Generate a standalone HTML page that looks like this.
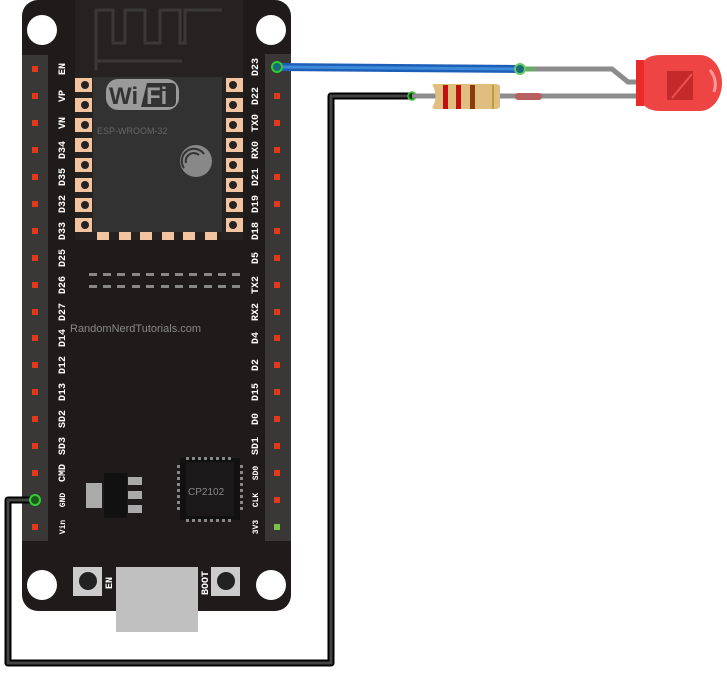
<!DOCTYPE html>
<html><head><meta charset="utf-8"><style>
html,body{margin:0;padding:0;background:#fff;}
svg{display:block;}
.l{font-family:"Liberation Mono",monospace;font-size:10px;fill:#fff;font-weight:bold;}
</style></head><body>
<svg width="727" height="673" viewBox="0 0 727 673" xmlns="http://www.w3.org/2000/svg">
<!-- board -->
<rect x="22" y="0" width="269" height="611" rx="16" fill="#1f1b1b"/>
<circle cx="42" cy="30" r="15" fill="#fff"/>
<circle cx="271" cy="30" r="15" fill="#fff"/>
<circle cx="42" cy="585" r="15" fill="#fff"/>
<circle cx="271" cy="585" r="15" fill="#fff"/>
<!-- headers -->
<rect x="22" y="55" width="26" height="486" fill="#3a3737"/>
<rect x="265" y="54" width="26" height="487" fill="#3a3737"/>
<g fill="#e03a1a">
<rect x="32" y="66" width="6" height="6"/><rect x="32" y="93" width="6" height="6"/><rect x="32" y="120" width="6" height="6"/><rect x="32" y="147" width="6" height="6"/><rect x="32" y="174" width="6" height="6"/><rect x="32" y="201" width="6" height="6"/><rect x="32" y="228" width="6" height="6"/><rect x="32" y="255" width="6" height="6"/><rect x="32" y="282" width="6" height="6"/><rect x="32" y="309" width="6" height="6"/><rect x="32" y="335" width="6" height="6"/><rect x="32" y="362" width="6" height="6"/><rect x="32" y="389" width="6" height="6"/><rect x="32" y="416" width="6" height="6"/><rect x="32" y="443" width="6" height="6"/><rect x="32" y="470" width="6" height="6"/><rect x="32" y="524" width="6" height="6"/>
<rect x="274" y="93" width="6" height="6"/><rect x="274" y="120" width="6" height="6"/><rect x="274" y="147" width="6" height="6"/><rect x="274" y="174" width="6" height="6"/><rect x="274" y="201" width="6" height="6"/><rect x="274" y="228" width="6" height="6"/><rect x="274" y="255" width="6" height="6"/><rect x="274" y="282" width="6" height="6"/><rect x="274" y="309" width="6" height="6"/><rect x="274" y="335" width="6" height="6"/><rect x="274" y="362" width="6" height="6"/><rect x="274" y="389" width="6" height="6"/><rect x="274" y="416" width="6" height="6"/><rect x="274" y="443" width="6" height="6"/><rect x="274" y="470" width="6" height="6"/><rect x="274" y="497" width="6" height="6"/>
</g>
<rect x="274" y="524" width="6" height="6" fill="#7ac04a"/>
<!-- labels -->
<g class="l" text-anchor="middle">
<text transform="translate(65,69) rotate(-90)">EN</text>
<text transform="translate(65,96) rotate(-90)">VP</text>
<text transform="translate(65,123) rotate(-90)">VN</text>
<text transform="translate(65,150) rotate(-90)">D34</text>
<text transform="translate(65,177) rotate(-90)">D35</text>
<text transform="translate(65,204) rotate(-90)">D32</text>
<text transform="translate(65,231) rotate(-90)">D33</text>
<text transform="translate(65,258) rotate(-90)">D25</text>
<text transform="translate(65,285) rotate(-90)">D26</text>
<text transform="translate(65,312) rotate(-90)">D27</text>
<text transform="translate(65,338) rotate(-90)">D14</text>
<text transform="translate(65,365) rotate(-90)">D12</text>
<text transform="translate(65,392) rotate(-90)">D13</text>
<text transform="translate(65,419) rotate(-90)">SD2</text>
<text transform="translate(65,446) rotate(-90)">SD3</text>
<text transform="translate(65,473) rotate(-90)">CMD</text>
<text transform="translate(65,500) rotate(-90)" style="font-size:8px">GND</text>
<text transform="translate(65,527) rotate(-90)" style="font-size:8px">Vin</text>
<text transform="translate(258,67) rotate(-90)">D23</text>
<text transform="translate(258,96) rotate(-90)">D22</text>
<text transform="translate(258,123) rotate(-90)">TX0</text>
<text transform="translate(258,150) rotate(-90)">RX0</text>
<text transform="translate(258,177) rotate(-90)">D21</text>
<text transform="translate(258,204) rotate(-90)">D19</text>
<text transform="translate(258,231) rotate(-90)">D18</text>
<text transform="translate(258,258) rotate(-90)">D5</text>
<text transform="translate(258,285) rotate(-90)">TX2</text>
<text transform="translate(258,312) rotate(-90)">RX2</text>
<text transform="translate(258,338) rotate(-90)">D4</text>
<text transform="translate(258,365) rotate(-90)">D2</text>
<text transform="translate(258,392) rotate(-90)">D15</text>
<text transform="translate(258,419) rotate(-90)">D0</text>
<text transform="translate(258,446) rotate(-90)">SD1</text>
<text transform="translate(258,473) rotate(-90)" style="font-size:8px">SD0</text>
<text transform="translate(258,500) rotate(-90)" style="font-size:8px">CLK</text>
<text transform="translate(258,527) rotate(-90)" style="font-size:8px">3V3</text>
</g>
<!-- module -->
<rect x="75" y="0" width="168" height="240" fill="#262222"/>
<rect x="93" y="77" width="129" height="155" fill="#333232"/>
<path d="M96 70 V10 H113 V43 H125 V10 H145 V43 H160 V10 H180 V43 H185 V10 H222" fill="none" stroke="#3a3838" stroke-width="3"/>
<line x1="96" y1="61" x2="182" y2="61" stroke="#3a3838" stroke-width="3"/>
<g fill="#f2c4a0">
<rect x="75" y="78" width="17" height="14"/><rect x="75" y="98" width="17" height="14"/><rect x="75" y="118" width="17" height="14"/><rect x="75" y="138" width="17" height="14"/><rect x="75" y="158" width="17" height="14"/><rect x="75" y="178" width="17" height="14"/><rect x="75" y="198" width="17" height="14"/><rect x="75" y="218" width="17" height="14"/>
<rect x="226" y="78" width="17" height="14"/><rect x="226" y="98" width="17" height="14"/><rect x="226" y="118" width="17" height="14"/><rect x="226" y="138" width="17" height="14"/><rect x="226" y="158" width="17" height="14"/><rect x="226" y="178" width="17" height="14"/><rect x="226" y="198" width="17" height="14"/><rect x="226" y="218" width="17" height="14"/>
<rect x="97" y="232" width="12" height="8"/><rect x="119" y="232" width="12" height="8"/><rect x="140" y="232" width="12" height="8"/><rect x="162" y="232" width="12" height="8"/><rect x="183" y="232" width="12" height="8"/><rect x="205" y="232" width="12" height="8"/>
</g>
<g fill="#262222"><circle cx="85" cy="85" r="4"/><circle cx="85" cy="105" r="4"/><circle cx="85" cy="125" r="4"/><circle cx="85" cy="145" r="4"/><circle cx="85" cy="165" r="4"/><circle cx="85" cy="185" r="4"/><circle cx="85" cy="205" r="4"/><circle cx="85" cy="225" r="4"/>
<circle cx="233" cy="85" r="4"/><circle cx="233" cy="105" r="4"/><circle cx="233" cy="125" r="4"/><circle cx="233" cy="145" r="4"/><circle cx="233" cy="165" r="4"/><circle cx="233" cy="185" r="4"/><circle cx="233" cy="205" r="4"/><circle cx="233" cy="225" r="4"/></g>
<rect x="106" y="79" width="73" height="31" rx="12" fill="#9a9a9a"/>
<path d="M147 83 H172 Q176 83 176 88 V101 Q176 107 170 107 H141 Z" fill="#333"/>
<text x="109" y="104" font-family="Liberation Sans,sans-serif" font-weight="bold" font-size="24" fill="#333">Wi</text>
<text x="146" y="104" font-family="Liberation Sans,sans-serif" font-weight="bold" font-size="24" fill="#9a9a9a">Fi</text>
<text x="97" y="134" font-family="Liberation Sans,sans-serif" font-size="9" fill="#666">ESP-WROOM-32</text>
<circle cx="196" cy="161" r="16" fill="#888"/>
<path d="M184 168 a12 12 0 0 1 20 -14 M186 163 a8 8 0 0 1 13 -8" stroke="#333" stroke-width="2" fill="none"/>
<!-- dashes -->
<g fill="#888">
<rect x="89" y="273" width="8" height="3"/><rect x="103" y="273" width="8" height="3"/><rect x="117" y="273" width="8" height="3"/><rect x="132" y="273" width="8" height="3"/><rect x="146" y="273" width="8" height="3"/><rect x="161" y="273" width="8" height="3"/><rect x="175" y="273" width="8" height="3"/><rect x="189" y="273" width="8" height="3"/><rect x="204" y="273" width="8" height="3"/><rect x="218" y="273" width="8" height="3"/><rect x="232" y="273" width="8" height="3"/>
<rect x="89" y="285" width="8" height="3"/><rect x="103" y="285" width="8" height="3"/><rect x="117" y="285" width="8" height="3"/><rect x="132" y="285" width="8" height="3"/><rect x="146" y="285" width="8" height="3"/><rect x="161" y="285" width="8" height="3"/><rect x="175" y="285" width="8" height="3"/><rect x="189" y="285" width="8" height="3"/><rect x="204" y="285" width="8" height="3"/><rect x="218" y="285" width="8" height="3"/><rect x="232" y="285" width="8" height="3"/>
</g>
<text x="70" y="332" font-family="Liberation Sans,sans-serif" font-size="11" fill="#888">RandomNerdTutorials.com</text>
<!-- regulator -->
<rect x="86" y="483" width="16" height="25" fill="#aaa"/>
<rect x="104" y="473" width="23" height="45" fill="#111"/>
<rect x="128" y="477" width="14" height="8" fill="#aaa"/><rect x="128" y="491" width="14" height="8" fill="#aaa"/><rect x="128" y="505" width="14" height="8" fill="#aaa"/>
<!-- CP2102 -->
<rect x="180" y="458" width="60" height="62" fill="#111"/>
<rect x="186" y="462" width="48" height="54" fill="#1a1818"/>
<g fill="#888">
<rect x="186" y="457" width="3" height="3"/><rect x="192" y="457" width="3" height="3"/><rect x="198" y="457" width="3" height="3"/><rect x="204" y="457" width="3" height="3"/><rect x="210" y="457" width="3" height="3"/><rect x="216" y="457" width="3" height="3"/><rect x="222" y="457" width="3" height="3"/><rect x="228" y="457" width="3" height="3"/>
<rect x="186" y="519" width="3" height="3"/><rect x="192" y="519" width="3" height="3"/><rect x="198" y="519" width="3" height="3"/><rect x="204" y="519" width="3" height="3"/><rect x="210" y="519" width="3" height="3"/><rect x="216" y="519" width="3" height="3"/><rect x="222" y="519" width="3" height="3"/><rect x="228" y="519" width="3" height="3"/>
<rect x="177" y="465" width="3" height="3"/><rect x="177" y="471" width="3" height="3"/><rect x="177" y="477" width="3" height="3"/><rect x="177" y="483" width="3" height="3"/><rect x="177" y="489" width="3" height="3"/><rect x="177" y="495" width="3" height="3"/><rect x="177" y="501" width="3" height="3"/><rect x="177" y="507" width="3" height="3"/>
<rect x="240" y="465" width="3" height="3"/><rect x="240" y="471" width="3" height="3"/><rect x="240" y="477" width="3" height="3"/><rect x="240" y="483" width="3" height="3"/><rect x="240" y="489" width="3" height="3"/><rect x="240" y="495" width="3" height="3"/><rect x="240" y="501" width="3" height="3"/><rect x="240" y="507" width="3" height="3"/>
</g>
<text x="188" y="495" font-family="Liberation Sans,sans-serif" font-size="10" fill="#888">CP2102</text>
<!-- buttons and USB -->
<rect x="73" y="567" width="29" height="29" fill="#ccc"/><circle cx="88" cy="581" r="9" fill="#222"/>
<text transform="translate(112,583) rotate(-90)" text-anchor="middle" class="l" style="font-size:10px">EN</text>
<rect x="211" y="567" width="29" height="29" fill="#ccc"/><circle cx="226" cy="581" r="9" fill="#222"/>
<text transform="translate(208,583) rotate(-90)" text-anchor="middle" class="l" style="font-size:10px">BOOT</text>
<rect x="116" y="567" width="82" height="65" fill="#c0c0c0"/>
<!-- black wire -->
<polyline points="412,96 331,96 331,663 8,663 8,500 35,500" fill="none" stroke="#000" stroke-width="7" stroke-linejoin="round"/>
<polyline points="412,96 331,96 331,663 8,663 8,500 35,500" fill="none" stroke="#444" stroke-width="3" stroke-linejoin="round"/>
<circle cx="35" cy="500" r="5" fill="#1a5a1a" stroke="#3c3" stroke-width="2"/>
<circle cx="412" cy="96" r="4" fill="#1a3a1a" stroke="#3c3" stroke-width="1.5"/>
<!-- LED legs -->
<polyline points="520,69 612,69 628,82 642,82" fill="none" stroke="#8c8c8c" stroke-width="5"/>
<line x1="412" y1="96" x2="642" y2="96" stroke="#8c8c8c" stroke-width="5"/>
<line x1="520" y1="69" x2="535" y2="69" stroke="#6a6" stroke-width="5"/>
<rect x="515" y="93" width="27" height="7" rx="3" fill="#b86060"/>
<!-- blue wire -->
<line x1="277" y1="67" x2="520" y2="69" stroke="#1d5fb8" stroke-width="8" stroke-linecap="round"/>
<line x1="277" y1="67" x2="520" y2="69" stroke="#3d8ad8" stroke-width="3"/>
<circle cx="277" cy="67" r="5" fill="#1a6a7a" stroke="#3c3" stroke-width="2"/>
<circle cx="520" cy="69" r="5" fill="#1a6a7a" stroke="#6c6" stroke-width="2"/>
<!-- resistor -->
<path d="M433 86 Q431 84 436 84 H495 Q501 84 500 88 V106 Q500 109 495 109 H436 Q431 109 433 106 Q438 97 433 86Z" fill="#e0be80"/>
<rect x="443" y="85" width="5" height="24" fill="#c01010"/>
<rect x="456" y="85" width="5" height="24" fill="#c01010"/>
<rect x="470" y="85" width="5" height="24" fill="#8a3a10"/>
<rect x="492" y="85" width="2" height="24" fill="#b8a040"/>
<!-- LED -->
<path d="M660 55 H700 A22 28 0 0 1 700 111 H660 Q637 111 637 83 Q637 55 660 55Z" fill="#ee4444"/>
<rect x="636" y="60" width="8" height="46" fill="#e82a2a"/>
<polygon points="667,71 693,71 693,100 667,100" fill="#c42a2a"/>
<line x1="672" y1="98" x2="692" y2="74" stroke="#ee5050" stroke-width="2"/>
<path d="M710 70 Q718 80 714 92" stroke="#ff9a9a" stroke-width="3" fill="none"/>
</svg>
</body></html>
